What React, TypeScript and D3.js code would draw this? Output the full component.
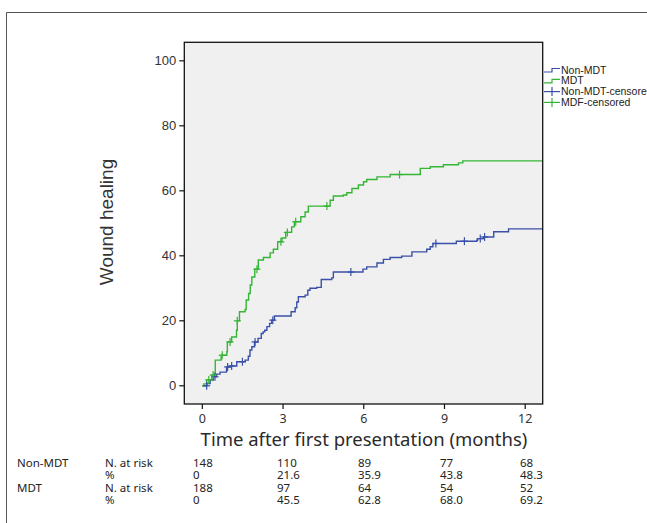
import React from "react";
import * as d3 from "d3";

// ---- data ----
const groupNames = ["Non-MDT", "MDT"];
const legendLabels = ["Non-MDT", "MDT", "Non-MDT-censore", "MDF-censored"];

// Kaplan-Meier style steps: [time (months), cumulative wound healing %]
const nonMdtSteps: [number, number][] = [
  [0, 0], [0.17, 0.7], [0.29, 1.8], [0.41, 2.8], [0.53, 3.6], [0.66, 4.2],
  [0.9, 5.8], [1.03, 6.1], [1.28, 7.4], [1.59, 7.9], [1.71, 9.1], [1.77, 11.0],
  [1.84, 12.0], [1.94, 13.5], [2.07, 14.6], [2.19, 16.1], [2.26, 16.6], [2.32, 17.1],
  [2.4, 18.2], [2.5, 19.2], [2.58, 20.2], [2.68, 21.5], [3.3, 22.8], [3.45, 24.0],
  [3.51, 25.8], [3.57, 27.4], [3.82, 27.9], [3.92, 29.4], [4.0, 30.0], [4.25, 30.3],
  [4.42, 32.7], [4.81, 33.2], [4.87, 35.0], [5.97, 35.9], [6.11, 36.6], [6.49, 37.8],
  [6.73, 38.9], [6.98, 39.5], [7.41, 39.9], [7.79, 41.2], [8.34, 42.0], [8.47, 42.8],
  [8.57, 43.8], [9.44, 44.5], [10.2, 44.8], [10.23, 45.3], [10.45, 45.8], [10.83, 47.4],
  [11.38, 48.3], [12.65, 48.3],
];
const mdtSteps: [number, number][] = [
  [0, 0], [0.06, 0.6], [0.16, 1.8], [0.35, 3.3], [0.45, 3.8], [0.48, 7.9],
  [0.7, 9.4], [0.91, 10.5], [0.93, 13.5], [1.09, 15.0], [1.27, 17.1], [1.3, 20.0],
  [1.38, 22.8], [1.59, 23.5], [1.63, 26.4], [1.72, 28.4], [1.78, 31.0], [1.84, 33.5],
  [1.95, 35.9], [2.08, 38.7], [2.27, 39.5], [2.52, 40.9], [2.64, 42.0], [2.8, 44.3],
  [2.96, 45.5], [3.1, 47.2], [3.32, 48.9], [3.42, 50.5], [3.66, 52.0], [3.82, 53.5],
  [3.94, 55.3], [4.75, 57.1], [4.87, 58.4], [5.24, 58.7], [5.37, 59.4], [5.56, 60.7],
  [5.8, 61.8], [5.99, 62.8], [6.11, 63.5], [6.49, 64.3], [6.98, 65.0], [8.1, 66.9],
  [8.47, 67.4], [8.96, 68.0], [9.52, 68.6], [9.68, 69.2], [12.65, 69.2],
];
const nonMdtCensored: [number, number][] = [
  [0.16, 0.0], [0.47, 2.8], [0.94, 5.8], [1.09, 6.1], [1.49, 7.4], [1.96, 13.5],
  [2.62, 20.2], [5.52, 35.0], [8.68, 43.8], [9.74, 44.5], [10.33, 45.3], [10.49, 45.8],
];
const mdtCensored: [number, number][] = [
  [0.24, 1.8], [0.4, 3.3], [0.74, 9.4], [1.03, 13.5], [1.3, 20.0], [2.03, 35.9],
  [2.92, 44.3], [3.16, 47.2], [3.47, 50.5], [4.63, 55.3], [7.33, 65.0],
];

const xTicks = [0, 3, 6, 9, 12];
const yTicks = [0, 20, 40, 60, 80, 100];
const riskTimes = [0, 3, 6, 9, 12];
const nonMdtAtRisk = ["148", "110", "89", "77", "68"];
const nonMdtPct = ["0", "21.6", "35.9", "43.8", "48.3"];
const mdtAtRisk = ["188", "97", "64", "54", "52"];
const mdtPct = ["0", "45.5", "62.8", "68.0", "69.2"];

const BLUE = "#3a4fa8";
const GREEN = "#35b535";
const SANS = "'Liberation Sans', Arial, sans-serif";
const NOTO = "'Noto Sans', 'Open Sans', sans-serif";

export default function App() {
  const W = 647, H = 523;
  const left = 184.3, right = 542.7, top = 42.3, bottom = 404;
  const x = d3.scaleLinear().domain([-0.67, 12.65]).range([left, right]);
  const y = d3.scaleLinear().domain([-5.6, 105.7]).range([bottom, top]);
  const line = d3
    .line<[number, number]>()
    .x((d) => x(d[0]))
    .y((d) => y(d[1]))
    .curve(d3.curveStepAfter);

  const cross = (d: [number, number], i: number, color: string) => (
    <g key={i} stroke={color} strokeWidth={1.2}>
      <line x1={x(d[0]) - 3.5} x2={x(d[0]) + 3.5} y1={y(d[1])} y2={y(d[1])} />
      <line x1={x(d[0])} x2={x(d[0])} y1={y(d[1]) - 4} y2={y(d[1]) + 4} />
    </g>
  );

  const rows = [
    { g: groupNames[0], lab: "N. at risk", vals: nonMdtAtRisk },
    { g: "", lab: "%", vals: nonMdtPct },
    { g: groupNames[1], lab: "N. at risk", vals: mdtAtRisk },
    { g: "", lab: "%", vals: mdtPct },
  ];
  const colX = [193, 277, 358, 440, 520];

  return (
    <svg
      width={W}
      height={H}
      style={{ position: "absolute", left: 0, top: 0, background: "#fff" }}
    >
      {/* outer frame */}
      <path d={`M6.5,${H + 2} L6.5,12.5 L${W + 2},12.5`} fill="none" stroke="#555" strokeWidth={1} />

      {/* plot area */}
      <rect x={left} y={top} width={right - left} height={bottom - top} fill="#f0f0f0" />

      {/* curves */}
      <path d={line(nonMdtSteps) || ""} fill="none" stroke={BLUE} strokeWidth={1.4} />
      <path d={line(mdtSteps) || ""} fill="none" stroke={GREEN} strokeWidth={1.4} />
      {nonMdtCensored.map((d, i) => cross(d, i, BLUE))}
      {mdtCensored.map((d, i) => cross(d, i, GREEN))}

      <rect x={left} y={top} width={right - left} height={bottom - top} fill="none" stroke="#111" strokeWidth={1.3} />

      {/* y axis */}
      {yTicks.map((t) => (
        <g key={t}>
          <line x1={left - 5} x2={left} y1={y(t)} y2={y(t)} stroke="#111" strokeWidth={1.2} />
          <text x={left - 8} y={y(t)} dy="0.35em" textAnchor="end" fontFamily={SANS} fontSize={13} fill="#333">
            {t}
          </text>
        </g>
      ))}
      <text
        transform={`translate(113,222) rotate(-90)`}
        textAnchor="middle"
        fontFamily={SANS}
        fontSize={19}
        fill="#333"
      >
        Wound healing
      </text>

      {/* x axis */}
      {xTicks.map((t) => (
        <g key={t}>
          <line x1={x(t)} x2={x(t)} y1={bottom} y2={bottom + 5} stroke="#111" strokeWidth={1.2} />
          <text x={x(t)} y={bottom + 19} textAnchor="middle" fontFamily={NOTO} fontSize={12.5} fill="#333">
            {t}
          </text>
        </g>
      ))}
      <text x={364} y={445.5} textAnchor="middle" fontFamily={NOTO} fontSize={18.5} fill="#2a2a2a">
        Time after first presentation (months)
      </text>

      {/* legend */}
      {legendLabels.map((lab, i) => {
        const ly = 70 + i * 10.8;
        const color = i % 2 === 0 ? BLUE : GREEN;
        return (
          <g key={lab}>
            {i < 2 ? (
              <path
                d={`M544,${ly + 2} H552 V${ly - 1.5} H560`}
                fill="none"
                stroke={color}
                strokeWidth={1.2}
              />
            ) : (
              <g stroke={color} strokeWidth={1.2}>
                <line x1={544} x2={560} y1={ly} y2={ly} />
                <line x1={552} x2={552} y1={ly - 4.5} y2={ly + 4.5} />
              </g>
            )}
            <text x={561} y={ly} dy="0.35em" fontFamily={SANS} fontSize={10.5} fill="#222">
              {lab}
            </text>
          </g>
        );
      })}

      {/* risk table */}
      {rows.map((r, ri) => {
        const ty = 467 + ri * 12.3;
        return (
          <g key={ri} fontFamily={NOTO} fontSize={11.5} fill="#222">
            {r.g && <text x={17} y={ty}>{r.g}</text>}
            <text x={105} y={ty}>{r.lab}</text>
            {r.vals.map((v, vi) => (
              <text key={vi} x={colX[vi]} y={ty} data-t={riskTimes[vi]}>
                {v}
              </text>
            ))}
          </g>
        );
      })}
    </svg>
  );
}
